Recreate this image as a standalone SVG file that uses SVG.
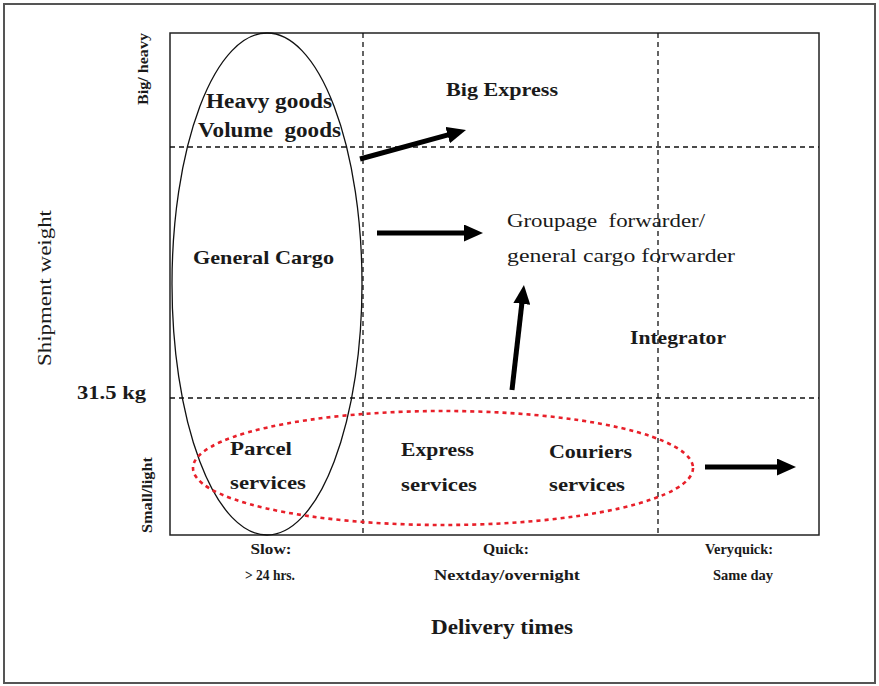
<svg xmlns="http://www.w3.org/2000/svg" width="879" height="686" viewBox="0 0 879 686">
<defs>
<style>
.t{font-family:"Liberation Serif","Times New Roman",serif;fill:#1a1a1a}
.b{font-weight:bold}
.dash{stroke:#111;stroke-width:1.3;stroke-dasharray:5 4;fill:none}
.arr{stroke:#000;stroke-width:5;fill:none;marker-end:url(#ah)}
</style>
<marker id="ah" markerUnits="userSpaceOnUse" markerWidth="19" markerHeight="17" refX="7" refY="8.5" orient="auto" viewBox="0 0 19 17">
<path d="M0,0 L19,8.5 L0,17 z" fill="#000"/>
</marker>
</defs>
<rect x="0" y="0" width="879" height="686" fill="#fff"/>
<rect x="4" y="4" width="871" height="679" fill="none" stroke="#555" stroke-width="2"/>
<g id="chart">
<rect x="170" y="33" width="649" height="502" fill="none" stroke="#222" stroke-width="1.5"/>
<line class="dash" x1="363" y1="33" x2="363" y2="535"/>
<line class="dash" x1="658" y1="33" x2="658" y2="535"/>
<line class="dash" x1="170" y1="147" x2="819" y2="147"/>
<line class="dash" x1="170" y1="398" x2="819" y2="398"/>
</g>
<g id="slow-ellipse">
<ellipse cx="267" cy="284" rx="95" ry="251" fill="none" stroke="#111" stroke-width="1.3"/>
</g>
<g id="light-ellipse">
<ellipse cx="443" cy="468" rx="250" ry="57" fill="none" stroke="#e8202a" stroke-width="2.6" stroke-dasharray="4 4"/>
</g>
<g id="connectors">
<line class="arr" x1="360" y1="159" x2="454.4" y2="133.2"/>
<line class="arr" x1="377" y1="233" x2="471" y2="233"/>
<line class="arr" x1="512" y1="390" x2="522.6" y2="296.9"/>
<line class="arr" x1="705" y1="467" x2="784" y2="467"/>
</g>
<g id="axis-labels">
<text class="t b" font-size="14" transform="translate(148,69) rotate(-90)" text-anchor="middle" textLength="72" lengthAdjust="spacingAndGlyphs">Big/ heavy</text>
<text class="t b" font-size="14" transform="translate(152,495) rotate(-90)" text-anchor="middle" textLength="76" lengthAdjust="spacingAndGlyphs">Small/light</text>
<text class="t" font-size="19" transform="translate(51,288) rotate(-90)" text-anchor="middle" textLength="156" lengthAdjust="spacingAndGlyphs">Shipment weight</text>
<text class="t b" font-size="19" x="77" y="399" textLength="69" lengthAdjust="spacingAndGlyphs">31.5 kg</text>
<text class="t b" font-size="14" x="271" y="554" text-anchor="middle" textLength="41" lengthAdjust="spacingAndGlyphs">Slow:</text>
<text class="t b" font-size="14" x="270" y="580" text-anchor="middle" textLength="50" lengthAdjust="spacingAndGlyphs">&gt; 24 hrs.</text>
<text class="t b" font-size="14" x="506" y="554" text-anchor="middle" textLength="46" lengthAdjust="spacingAndGlyphs">Quick:</text>
<text class="t b" font-size="14" x="507" y="580" text-anchor="middle" textLength="146" lengthAdjust="spacingAndGlyphs">Nextday/overnight</text>
<text class="t b" font-size="14" x="739" y="554" text-anchor="middle" textLength="68" lengthAdjust="spacingAndGlyphs">Veryquick:</text>
<text class="t b" font-size="14" x="743" y="580" text-anchor="middle" textLength="60" lengthAdjust="spacingAndGlyphs">Same day</text>
<text class="t b" font-size="20" x="502" y="634" text-anchor="middle" textLength="142" lengthAdjust="spacingAndGlyphs">Delivery times</text>
</g>
<g id="heavy-volume">
<text class="t b" font-size="20" x="206" y="108" textLength="126" lengthAdjust="spacingAndGlyphs">Heavy goods</text>
<text class="t b" font-size="20" x="198" y="137" textLength="143" lengthAdjust="spacingAndGlyphs">Volume&#160; goods</text>
</g>
<g id="big-express">
<text class="t b" font-size="19" x="446" y="96" textLength="112" lengthAdjust="spacingAndGlyphs">Big Express</text>
</g>
<g id="general-cargo">
<text class="t b" font-size="19" x="193" y="264" textLength="141" lengthAdjust="spacingAndGlyphs">General Cargo</text>
</g>
<g id="groupage">
<text class="t" font-size="19" x="507" y="227" textLength="198" lengthAdjust="spacingAndGlyphs">Groupage&#160; forwarder/</text>
<text class="t" font-size="19" x="507" y="262" textLength="228" lengthAdjust="spacingAndGlyphs">general cargo forwarder</text>
</g>
<g id="integrator">
<text class="t b" font-size="18" x="630" y="344" textLength="96" lengthAdjust="spacingAndGlyphs">Integrator</text>
</g>
<g id="parcel">
<text class="t b" font-size="19" x="230" y="455" textLength="62" lengthAdjust="spacingAndGlyphs">Parcel</text>
<text class="t b" font-size="19" x="230" y="489" textLength="76" lengthAdjust="spacingAndGlyphs">services</text>
</g>
<g id="express">
<text class="t b" font-size="19" x="401" y="456" textLength="73" lengthAdjust="spacingAndGlyphs">Express</text>
<text class="t b" font-size="19" x="401" y="491" textLength="76" lengthAdjust="spacingAndGlyphs">services</text>
</g>
<g id="couriers">
<text class="t b" font-size="19" x="549" y="458" textLength="83" lengthAdjust="spacingAndGlyphs">Couriers</text>
<text class="t b" font-size="19" x="549" y="491" textLength="76" lengthAdjust="spacingAndGlyphs">services</text>
</g>
</svg>
